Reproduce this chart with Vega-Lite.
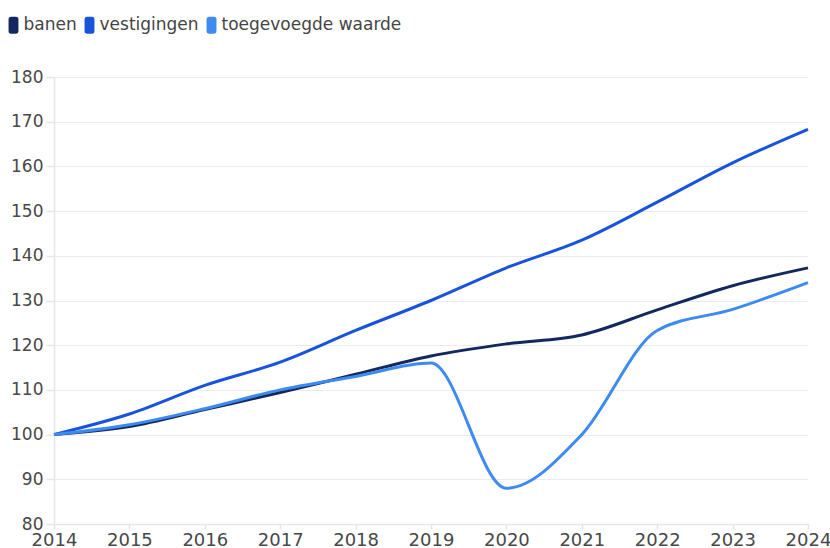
{
  "$schema": "https://vega.github.io/schema/vega-lite/v6.json",
  "width": 754,
  "height": 447,
  "autosize": "none",
  "padding": {"left": 54, "top": 77, "right": 22, "bottom": 24},
  "background": "white",
  "config": {
    "font": "DejaVu Sans",
    "view": {"stroke": null},
    "axis": {"labelFont": "DejaVu Sans", "labelColor": "#484848", "labelFontSize": 17, "gridColor": "#ebebeb", "domainColor": "#e6e6e6", "tickColor": "#e6e6e6", "domainWidth": 1.5, "tickWidth": 1.5, "title": null}
  },
  "data": {
    "values": [
      {"jaar": 2014, "reeks": "banen", "waarde": 100},
      {"jaar": 2015, "reeks": "banen", "waarde": 101.8},
      {"jaar": 2016, "reeks": "banen", "waarde": 105.6},
      {"jaar": 2017, "reeks": "banen", "waarde": 109.4},
      {"jaar": 2018, "reeks": "banen", "waarde": 113.5},
      {"jaar": 2019, "reeks": "banen", "waarde": 117.6},
      {"jaar": 2020, "reeks": "banen", "waarde": 120.3},
      {"jaar": 2021, "reeks": "banen", "waarde": 122.3},
      {"jaar": 2022, "reeks": "banen", "waarde": 127.9},
      {"jaar": 2023, "reeks": "banen", "waarde": 133.3},
      {"jaar": 2024, "reeks": "banen", "waarde": 137.3},
      {"jaar": 2014, "reeks": "vestigingen", "waarde": 100},
      {"jaar": 2015, "reeks": "vestigingen", "waarde": 104.6},
      {"jaar": 2016, "reeks": "vestigingen", "waarde": 111.0},
      {"jaar": 2017, "reeks": "vestigingen", "waarde": 116.2},
      {"jaar": 2018, "reeks": "vestigingen", "waarde": 123.3},
      {"jaar": 2019, "reeks": "vestigingen", "waarde": 130.0},
      {"jaar": 2020, "reeks": "vestigingen", "waarde": 137.3},
      {"jaar": 2021, "reeks": "vestigingen", "waarde": 143.5},
      {"jaar": 2022, "reeks": "vestigingen", "waarde": 152.0},
      {"jaar": 2023, "reeks": "vestigingen", "waarde": 160.8},
      {"jaar": 2024, "reeks": "vestigingen", "waarde": 168.3},
      {"jaar": 2014, "reeks": "toegevoegde waarde", "waarde": 100},
      {"jaar": 2015, "reeks": "toegevoegde waarde", "waarde": 102.2},
      {"jaar": 2016, "reeks": "toegevoegde waarde", "waarde": 105.8},
      {"jaar": 2017, "reeks": "toegevoegde waarde", "waarde": 110.0},
      {"jaar": 2018, "reeks": "toegevoegde waarde", "waarde": 113.0},
      {"jaar": 2019, "reeks": "toegevoegde waarde", "waarde": 116.0},
      {"jaar": 2020, "reeks": "toegevoegde waarde", "waarde": 88.0},
      {"jaar": 2021, "reeks": "toegevoegde waarde", "waarde": 100.0},
      {"jaar": 2022, "reeks": "toegevoegde waarde", "waarde": 123.3},
      {"jaar": 2023, "reeks": "toegevoegde waarde", "waarde": 128.0},
      {"jaar": 2024, "reeks": "toegevoegde waarde", "waarde": 134.0}
    ]
  },
  "mark": {"type": "line", "interpolate": "monotone", "strokeWidth": 3},
  "encoding": {
    "x": {
      "field": "jaar", "type": "quantitative",
      "scale": {"domain": [2014, 2024], "nice": false, "zero": false},
      "axis": {"format": "d", "values": [2014,2015,2016,2017,2018,2019,2020,2021,2022,2023,2024], "grid": false, "tickSize": 5, "labelPadding": 2, "labelFontSize": 18, "labelFlush": false, "labelOverlap": false}
    },
    "y": {
      "field": "waarde", "type": "quantitative",
      "scale": {"domain": [80, 180], "nice": false, "zero": false},
      "axis": {"values": [80,90,100,110,120,130,140,150,160,170,180], "tickSize": 8, "labelPadding": 3, "grid": true}
    },
    "color": {
      "field": "reeks", "type": "nominal",
      "scale": {"domain": ["banen", "vestigingen", "toegevoegde waarde"], "range": ["#13285e", "#1753db", "#3d8bf0"]},
      "legend": {
        "title": null, "orient": "none", "direction": "horizontal",
        "legendX": -49.5, "legendY": -61,
        "symbolType": "M-0.26,-0.94 L0.26,-0.94 Q0.55,-0.94 0.55,-0.64 L0.55,0.64 Q0.55,0.94 0.26,0.94 L-0.26,0.94 Q-0.55,0.94 -0.55,0.64 L-0.55,-0.64 Q-0.55,-0.94 -0.26,-0.94 Z",
        "symbolSize": 324, "symbolStrokeWidth": 0, "symbolOpacity": 1,
        "labelFontSize": 17, "labelColor": "#444444", "labelFont": "DejaVu Sans", "labelLimit": 400,
        "labelOffset": 1, "columnPadding": 3, "symbolOffset": 0,
        "encode": {"symbols": {"update": {"fill": {"scale": "color", "field": "value"}, "strokeWidth": {"value": 0}}}}
      }
    }
  }
}
